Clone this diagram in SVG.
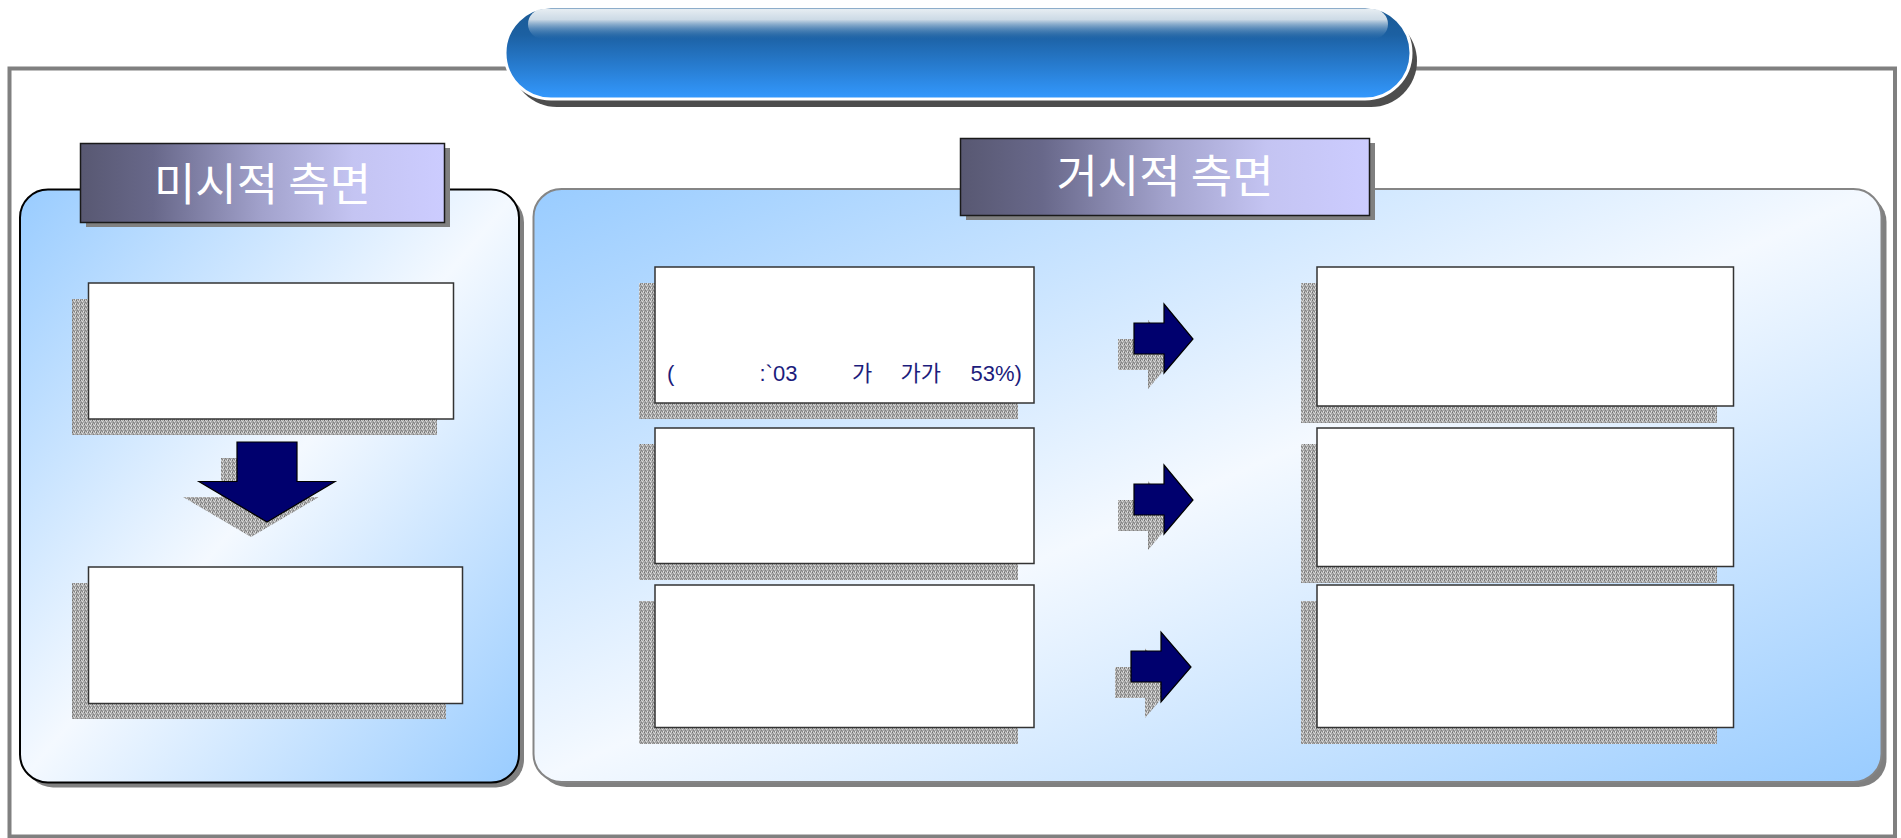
<svg xmlns="http://www.w3.org/2000/svg" width="1901" height="838" viewBox="0 0 1901 838">
<defs>
<style>
.frame{fill:none;stroke:#808080;stroke-width:4}
.pshadow{fill:#808080}
.box{fill:#ffffff;stroke:#333333;stroke-width:1.5}
.stip{fill:url(#stip)}
.arrow{fill:#00006e;stroke:#000000;stroke-width:1.2;stroke-linejoin:miter}
.title{font-family:"Noto Sans CJK KR","Noto Sans",sans-serif;font-size:45px;fill:#ffffff;text-anchor:middle}
.note{font-family:"Liberation Sans","Noto Sans CJK KR",sans-serif;font-size:22px;fill:#1c1c7c}
</style>
<pattern id="stip" width="4" height="4" patternUnits="userSpaceOnUse">
<rect width="4" height="4" fill="#a8a8a8"/>
<rect x="0" y="0" width="1" height="1" fill="#707070"/>
<rect x="2" y="1" width="1" height="1" fill="#dddddd"/>
<rect x="1" y="2" width="1" height="1" fill="#808080"/>
<rect x="3" y="3" width="1" height="1" fill="#e2e2e2"/>
<rect x="3" y="0" width="1" height="1" fill="#c8c8c8"/>
<rect x="0" y="3" width="1" height="1" fill="#949494"/>
<rect x="2" y="3" width="1" height="1" fill="#858585"/>
<rect x="1" y="0" width="1" height="1" fill="#d0d0d0"/>
</pattern>
<linearGradient id="panelG" x1="0" y1="0" x2="1" y2="1">
<stop offset="0" stop-color="#99ccff"/>
<stop offset="0.5" stop-color="#f4f9ff"/>
<stop offset="1" stop-color="#99ccff"/>
</linearGradient>
<linearGradient id="titleG" x1="0" y1="0" x2="1" y2="0">
<stop offset="0" stop-color="#585872"/>
<stop offset="0.2" stop-color="#68688a"/>
<stop offset="0.5" stop-color="#a2a2cc"/>
<stop offset="0.75" stop-color="#c4c4f2"/>
<stop offset="1" stop-color="#ccccff"/>
</linearGradient>
<linearGradient id="pillG" x1="0" y1="0" x2="0" y2="1">
<stop offset="0" stop-color="#1b5a94"/>
<stop offset="0.3" stop-color="#1c60a2"/>
<stop offset="1" stop-color="#3399ff"/>
</linearGradient>
<linearGradient id="glossG" x1="0" y1="0" x2="0" y2="1">
<stop offset="0" stop-color="#e6edf2" stop-opacity="1"/>
<stop offset="0.35" stop-color="#d6e1ea" stop-opacity="0.95"/>
<stop offset="1" stop-color="#4d86bb" stop-opacity="0"/>
</linearGradient>
</defs>

<rect width="1901" height="838" fill="#ffffff"/>

<g id="frame">
<rect class="frame" x="9.5" y="68.5" width="1885.5" height="768"/>
</g>

<g id="header">
<rect x="511" y="15" width="906" height="92" rx="46" fill="#4d4d4d"/>
<rect x="505" y="7" width="906" height="92" rx="46" fill="url(#pillG)" stroke="#ffffff" stroke-width="3"/>
<rect x="528" y="9" width="860" height="30" rx="15" fill="url(#glossG)"/>
</g>

<g id="panel-micro">
<rect class="pshadow" x="25" y="194.5" width="499" height="593" rx="28"/>
<rect x="20" y="189.5" width="499" height="593" rx="28" fill="url(#panelG)" stroke="#000000" stroke-width="2"/>
</g>

<g id="panel-macro">
<rect class="pshadow" x="538.5" y="194" width="1348" height="593" rx="28"/>
<rect x="533.5" y="189" width="1348" height="593" rx="28" fill="url(#panelG)" stroke="#858585" stroke-width="2"/>
</g>

<g id="title-micro">
<rect class="pshadow" x="86" y="148" width="364" height="79"/>
<rect x="80.5" y="143.5" width="364" height="79" fill="url(#titleG)" stroke="#1a1a1a" stroke-width="1.5"/>
<text class="title" x="262.5" y="201">미시적 측면</text>
</g>

<g id="title-macro">
<rect class="pshadow" x="966" y="143" width="409" height="77"/>
<rect x="960.5" y="138.5" width="409" height="77" fill="url(#titleG)" stroke="#1a1a1a" stroke-width="1.5"/>
<text class="title" x="1165" y="193">거시적 측면</text>
</g>

<g id="micro-box1">
<rect class="stip" x="72" y="299" width="365" height="136"/>
<rect class="box" x="88.5" y="283" width="365" height="136"/>
</g>

<g id="micro-box2">
<rect class="stip" x="72" y="583" width="374" height="136"/>
<rect class="box" x="88.5" y="567" width="374" height="136.5"/>
</g>

<g id="macro-l1">
<rect class="stip" x="639" y="283" width="379" height="136"/>
<rect class="box" x="655" y="267" width="379" height="136"/>
<text class="note" y="381"><tspan x="667">(</tspan><tspan x="759.5">:`03</tspan><tspan x="852">가</tspan><tspan x="900.5">가가</tspan><tspan x="970.5">53%)</tspan></text>
</g>

<g id="macro-l2">
<rect class="stip" x="639" y="444" width="379" height="136"/>
<rect class="box" x="655" y="428" width="379" height="135.5"/>
</g>

<g id="macro-l3">
<rect class="stip" x="639" y="601" width="379" height="143"/>
<rect class="box" x="655" y="585" width="379" height="142.5"/>
</g>

<g id="macro-r1">
<rect class="stip" x="1301" y="283" width="416" height="140"/>
<rect class="box" x="1317" y="267" width="416.5" height="139"/>
</g>

<g id="macro-r2">
<rect class="stip" x="1301" y="444" width="416" height="139"/>
<rect class="box" x="1317" y="428" width="416.5" height="138.5"/>
</g>

<g id="macro-r3">
<rect class="stip" x="1301" y="601" width="416" height="143"/>
<rect class="box" x="1317" y="585" width="416.5" height="142.5"/>
</g>

<g id="connectors">
<g id="arrow-down">
<polygon class="stip" points="221,458 281,458 281,497 319,497 251,537 183,497 221,497"/>
<polygon class="arrow" points="237,442 297,442 297,481.5 335,481.5 267,522 199,481.5 237,481.5"/>
</g>
<g id="arrow-r1">
<polygon class="stip" points="1118,339 1148,339 1148,320 1177,355 1148,389 1148,370 1118,370"/>
<polygon class="arrow" points="1134,323 1164,323 1164,304 1193,339 1164,373 1164,354 1134,354"/>
</g>
<g id="arrow-r2">
<polygon class="stip" points="1118,500 1148,500 1148,481 1177,516 1148,550 1148,531 1118,531"/>
<polygon class="arrow" points="1134,484 1164,484 1164,465 1193,500 1164,534 1164,515 1134,515"/>
</g>
<g id="arrow-r3">
<polygon class="stip" points="1115,667 1145,667 1145,648 1175,683 1145,718 1145,698 1115,698"/>
<polygon class="arrow" points="1131,651 1161,651 1161,632 1191,667 1161,702 1161,682 1131,682"/>
</g>
</g>
</svg>
